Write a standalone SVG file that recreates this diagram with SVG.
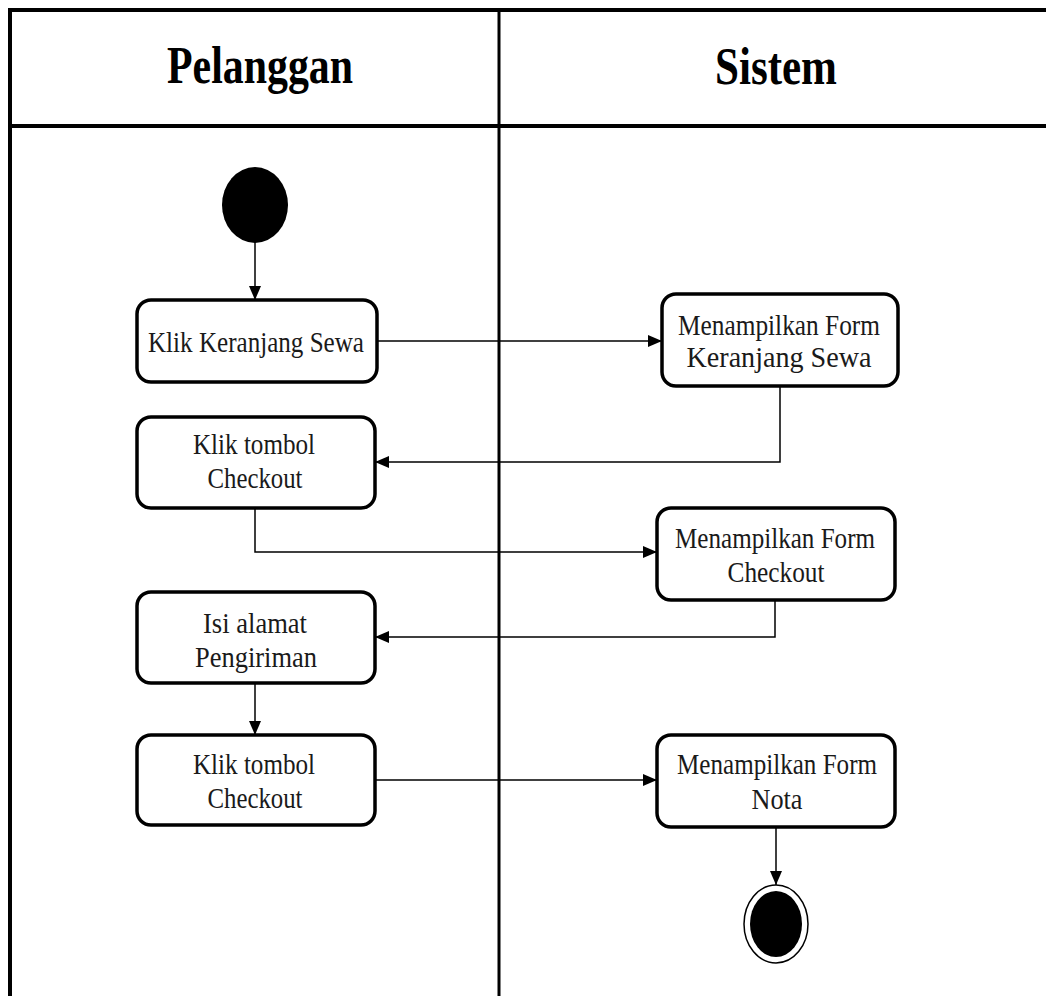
<svg xmlns="http://www.w3.org/2000/svg" width="1046" height="996" viewBox="0 0 1046 996">
<style>
.frame{stroke:#000;stroke-width:4;fill:none}
.box{fill:#fff;stroke:#000;stroke-width:3.5}
.t{font-family:"Liberation Serif","Times New Roman",serif;font-size:30px;fill:#1a1a1a;text-anchor:middle}
.h{font-family:"Liberation Serif","Times New Roman",serif;font-size:53px;font-weight:bold;fill:#000;text-anchor:middle}
.c{stroke:#000;stroke-width:1.5;fill:none;marker-end:url(#arr)}
</style>
<defs>
<marker id="arr" markerWidth="15" markerHeight="13" refX="14" refY="6" orient="auto" markerUnits="userSpaceOnUse">
<path d="M0,0 L14,6 L0,12 z" fill="#000"/>
</marker>
</defs>
<rect width="1046" height="996" fill="#fff"/>
<g id="swimlanes">
<line class="frame" x1="8" y1="10" x2="1046" y2="10"/>
<line class="frame" x1="10" y1="8" x2="10" y2="996"/>
<line class="frame" x1="499" y1="10" x2="499" y2="996" style="stroke-width:3"/>
<line class="frame" x1="10" y1="126" x2="1046" y2="126"/>
<text class="h" x="260" y="83" textLength="186" lengthAdjust="spacingAndGlyphs">Pelanggan</text>
<text class="h" x="776" y="84" textLength="122" lengthAdjust="spacingAndGlyphs">Sistem</text>
</g>
<g id="connectors">
<line class="c" x1="255" y1="242" x2="255" y2="300"/>
<line class="c" x1="377" y1="341" x2="662" y2="341"/>
<polyline class="c" points="780,386 780,462 375,462"/>
<polyline class="c" points="255,508 255,552 657,552"/>
<polyline class="c" points="775,600 775,637 375,637"/>
<line class="c" x1="255" y1="683" x2="255" y2="735"/>
<line class="c" x1="375" y1="780" x2="657" y2="780"/>
<line class="c" x1="776" y1="827" x2="776" y2="885"/>
</g>
<g id="start">
<ellipse cx="255" cy="205" rx="33" ry="38" fill="#000"/>
</g>
<g id="klik-keranjang">
<rect class="box" x="137" y="300" width="240" height="82" rx="14"/>
<text class="t" x="256" y="352" textLength="216" lengthAdjust="spacingAndGlyphs">Klik Keranjang Sewa</text>
</g>
<g id="form-keranjang">
<rect class="box" x="662" y="294" width="236" height="92" rx="14"/>
<text class="t" x="779" y="335" textLength="202" lengthAdjust="spacingAndGlyphs">Menampilkan Form</text>
<text class="t" x="779" y="367" textLength="185" lengthAdjust="spacingAndGlyphs">Keranjang Sewa</text>
</g>
<g id="klik-checkout-1">
<rect class="box" x="137" y="417" width="238" height="91" rx="14"/>
<text class="t" x="254" y="454" textLength="122" lengthAdjust="spacingAndGlyphs">Klik tombol</text>
<text class="t" x="255" y="488" textLength="95" lengthAdjust="spacingAndGlyphs">Checkout</text>
</g>
<g id="form-checkout">
<rect class="box" x="657" y="508" width="238" height="92" rx="14"/>
<text class="t" x="775" y="548" textLength="200" lengthAdjust="spacingAndGlyphs">Menampilkan Form</text>
<text class="t" x="776" y="582" textLength="97" lengthAdjust="spacingAndGlyphs">Checkout</text>
</g>
<g id="isi-alamat">
<rect class="box" x="137" y="592" width="238" height="91" rx="14"/>
<text class="t" x="255" y="633" textLength="104" lengthAdjust="spacingAndGlyphs">Isi alamat</text>
<text class="t" x="256" y="667" textLength="122" lengthAdjust="spacingAndGlyphs">Pengiriman</text>
</g>
<g id="klik-checkout-2">
<rect class="box" x="137" y="735" width="238" height="90" rx="14"/>
<text class="t" x="254" y="774" textLength="122" lengthAdjust="spacingAndGlyphs">Klik tombol</text>
<text class="t" x="255" y="808" textLength="95" lengthAdjust="spacingAndGlyphs">Checkout</text>
</g>
<g id="form-nota">
<rect class="box" x="657" y="735" width="238" height="92" rx="14"/>
<text class="t" x="777" y="774" textLength="200" lengthAdjust="spacingAndGlyphs">Menampilkan Form</text>
<text class="t" x="777" y="809" textLength="51" lengthAdjust="spacingAndGlyphs">Nota</text>
</g>
<g id="end">
<ellipse cx="776" cy="924" rx="32" ry="39" fill="#fff" stroke="#000" stroke-width="1.5"/>
<ellipse cx="776" cy="924" rx="26" ry="33" fill="#000"/>
</g>
</svg>
